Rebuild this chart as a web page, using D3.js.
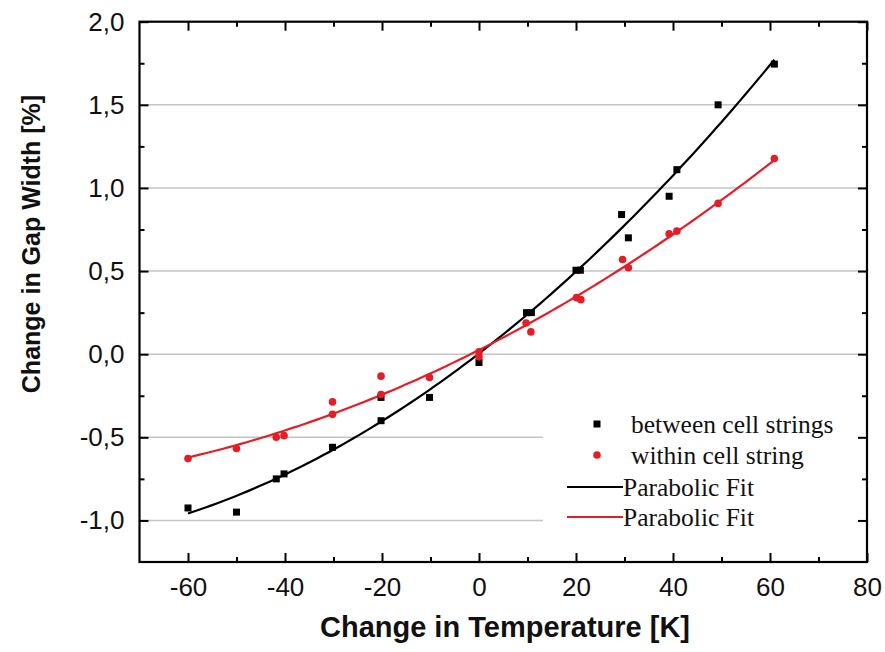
<!DOCTYPE html>
<html>
<head>
<meta charset="utf-8">
<script src="https://cdn.jsdelivr.net/npm/d3@7"></script>
<style>
  html, body { margin: 0; padding: 0; background: #fff; }
  svg { display: block; }
</style>
</head>
<body>
<svg id="chart" width="885" height="652"></svg>
<script>
// Measured gap-width change vs. temperature change
const betweenT = [-60, -50, -41.8, -40.2, -30.2, -20.2, -20.2, -10.2, 0, 9.8, 10.8, 20, 20.9, 29.4, 30.8, 39.2, 40.8, 49.3, 60.9];
const betweenGap = [-0.925, -0.95, -0.75, -0.72, -0.56, -0.26, -0.40, -0.26, -0.05, 0.25, 0.25, 0.505, 0.505, 0.84, 0.70, 0.95, 1.11, 1.50, 1.745];

const withinT = [-60, -50, -41.8, -40.2, -30.2, -30.2, -20.2, -20.2, -10.2, 0, 0, 9.7, 10.7, 20.1, 21, 29.6, 30.8, 39.2, 40.8, 49.3, 60.9];
const withinGap = [-0.628, -0.567, -0.50, -0.49, -0.287, -0.362, -0.132, -0.243, -0.14, 0.014, -0.016, 0.188, 0.134, 0.34, 0.328, 0.57, 0.52, 0.724, 0.74, 0.907, 1.177];

const xTicks = [-60, -40, -20, 0, 20, 40, 60, 80];
const yTicks = [-1.0, -0.5, 0.0, 0.5, 1.0, 1.5, 2.0];
const legendLabels = ["between cell strings", "within cell string", "Parabolic Fit", "Parabolic Fit"];

const svg = d3.select("#chart");
const plotL = 139.5, plotR = 867, plotT = 21.7, plotB = 562;

const x = d3.scaleLinear().domain([-70, 80]).range([plotL, plotR]);
const y = d3.scaleLinear().domain([-1.25, 2.0]).range([plotB, plotT]);

const RED = "#e41e26";
const hyphen = s => s.replace("\u2212", "-");
const fmtY = d => hyphen(d3.format(".1f")(d).replace(".", ","));
const fmtX = d => hyphen(d3.format("d")(d));

// Least-squares parabola y = c0 + c1 x + c2 x^2
function parabolicFit(xs, ys) {
  let S = [0, 0, 0, 0, 0], T = [0, 0, 0];
  xs.forEach((xi, i) => {
    for (let k = 0; k < 5; k++) S[k] += Math.pow(xi, k);
    for (let k = 0; k < 3; k++) T[k] += ys[i] * Math.pow(xi, k);
  });
  const A = [[S[0], S[1], S[2], T[0]], [S[1], S[2], S[3], T[1]], [S[2], S[3], S[4], T[2]]];
  for (let i = 0; i < 3; i++) {
    for (let j = i + 1; j < 3; j++) {
      const f = A[j][i] / A[i][i];
      for (let k = i; k < 4; k++) A[j][k] -= f * A[i][k];
    }
  }
  const c = [0, 0, 0];
  for (let i = 2; i >= 0; i--) {
    let s = A[i][3];
    for (let k = i + 1; k < 3; k++) s -= A[i][k] * c[k];
    c[i] = s / A[i][i];
  }
  return t => c[0] + c[1] * t + c[2] * t * t;
}

// Grid lines
svg.append("g").selectAll("line")
  .data(yTicks.filter(v => v < 2))
  .join("line")
  .attr("x1", plotL).attr("x2", plotR)
  .attr("y1", d => y(d)).attr("y2", d => y(d))
  .attr("stroke", "#c4c4c4").attr("stroke-width", 1.5);

// Fit curves
function drawFit(xs, ys, color) {
  const f = parabolicFit(xs, ys);
  const lo = d3.min(xs), hi = d3.max(xs);
  const pts = d3.range(0, 101).map(i => lo + (hi - lo) * i / 100);
  svg.append("path")
    .datum(pts)
    .attr("fill", "none")
    .attr("stroke", color)
    .attr("stroke-width", 2.2)
    .attr("d", d3.line().x(d => x(d)).y(d => y(f(d))));
}
drawFit(betweenT, betweenGap, "#000");
drawFit(withinT, withinGap, RED);

// Scatter points
svg.append("g").selectAll("rect")
  .data(d3.zip(betweenT, betweenGap))
  .join("rect")
  .attr("x", d => x(d[0]) - 3.5).attr("y", d => y(d[1]) - 3.5)
  .attr("width", 7).attr("height", 7)
  .attr("fill", "#000");

svg.append("g").selectAll("circle")
  .data(d3.zip(withinT, withinGap))
  .join("circle")
  .attr("cx", d => x(d[0])).attr("cy", d => y(d[1]))
  .attr("r", 3.8)
  .attr("fill", RED);

// Legend
const leg = svg.append("g");
leg.append("rect").attr("x", 543).attr("y", 404).attr("width", plotR - 543 - 1).attr("height", 132).attr("fill", "#fff");
const legY = [424, 455, 487, 517];
leg.append("rect").attr("x", 597 - 3.5).attr("y", legY[0] - 3.5).attr("width", 7).attr("height", 7).attr("fill", "#000");
leg.append("circle").attr("cx", 597).attr("cy", legY[1]).attr("r", 3.8).attr("fill", RED);
leg.append("line").attr("x1", 567).attr("x2", 623).attr("y1", legY[2]).attr("y2", legY[2]).attr("stroke", "#000").attr("stroke-width", 2.2);
leg.append("line").attr("x1", 567).attr("x2", 623).attr("y1", legY[3]).attr("y2", legY[3]).attr("stroke", RED).attr("stroke-width", 2.2);
leg.selectAll("text")
  .data(legendLabels)
  .join("text")
  .attr("x", (d, i) => i < 2 ? 631 : 623)
  .attr("y", (d, i) => legY[i])
  .attr("dy", "0.35em")
  .attr("font-family", "'Liberation Serif', 'Times New Roman', serif")
  .attr("font-size", 25.5)
  .attr("fill", "#111")
  .text(d => d);

// Axes with inward ticks
const xMinorOnly = d3.range(-70, 80, 10).filter(v => !xTicks.includes(v) && v > -70);
const yMinorOnly = d3.range(-1.0, 2.0, 0.25).filter((v, i) => i % 2 === 1);

svg.append("g").attr("transform", `translate(0,${plotB})`)
  .call(d3.axisBottom(x).tickValues(xTicks).tickFormat(fmtX).tickSizeInner(-9).tickSizeOuter(0).tickPadding(16));
svg.append("g").attr("transform", `translate(0,${plotT})`)
  .call(d3.axisTop(x).tickValues(xTicks).tickFormat("").tickSizeInner(-9).tickSizeOuter(0));
svg.append("g").attr("transform", `translate(${plotL},0)`)
  .call(d3.axisLeft(y).tickValues(yTicks).tickFormat(fmtY).tickSizeInner(-9).tickSizeOuter(0).tickPadding(15));
svg.append("g").attr("transform", `translate(${plotR},0)`)
  .call(d3.axisRight(y).tickValues(yTicks).tickFormat("").tickSizeInner(-9).tickSizeOuter(0));

svg.append("g").attr("transform", `translate(0,${plotB})`)
  .call(d3.axisBottom(x).tickValues(xMinorOnly).tickFormat("").tickSizeInner(-5).tickSizeOuter(0));
svg.append("g").attr("transform", `translate(0,${plotT})`)
  .call(d3.axisTop(x).tickValues(xMinorOnly).tickFormat("").tickSizeInner(-5).tickSizeOuter(0));
svg.append("g").attr("transform", `translate(${plotL},0)`)
  .call(d3.axisLeft(y).tickValues(yMinorOnly).tickFormat("").tickSizeInner(-5).tickSizeOuter(0));
svg.append("g").attr("transform", `translate(${plotR},0)`)
  .call(d3.axisRight(y).tickValues(yMinorOnly).tickFormat("").tickSizeInner(-5).tickSizeOuter(0));

svg.selectAll(".domain").remove();
svg.selectAll(".tick line").attr("stroke", "#000").attr("stroke-width", 2);
svg.selectAll(".tick text")
  .attr("font-family", "'Liberation Sans', Arial, sans-serif")
  .attr("font-size", 26)
  .attr("fill", "#111");

// Frame
svg.append("rect")
  .attr("x", plotL).attr("y", plotT)
  .attr("width", plotR - plotL).attr("height", plotB - plotT)
  .attr("fill", "none").attr("stroke", "#000").attr("stroke-width", 2.2);

// Axis titles
svg.append("text")
  .attr("x", 505).attr("y", 637)
  .attr("text-anchor", "middle")
  .attr("font-family", "'Liberation Sans', Arial, sans-serif")
  .attr("font-weight", "bold").attr("font-size", 29)
  .attr("fill", "#111")
  .text("Change in Temperature [K]");

svg.append("text")
  .attr("transform", `translate(40,244) rotate(-90)`)
  .attr("text-anchor", "middle")
  .attr("font-family", "'Liberation Sans', Arial, sans-serif")
  .attr("font-weight", "bold").attr("font-size", 25)
  .attr("fill", "#111")
  .text("Change in Gap Width [%]");
</script>
</body>
</html>
